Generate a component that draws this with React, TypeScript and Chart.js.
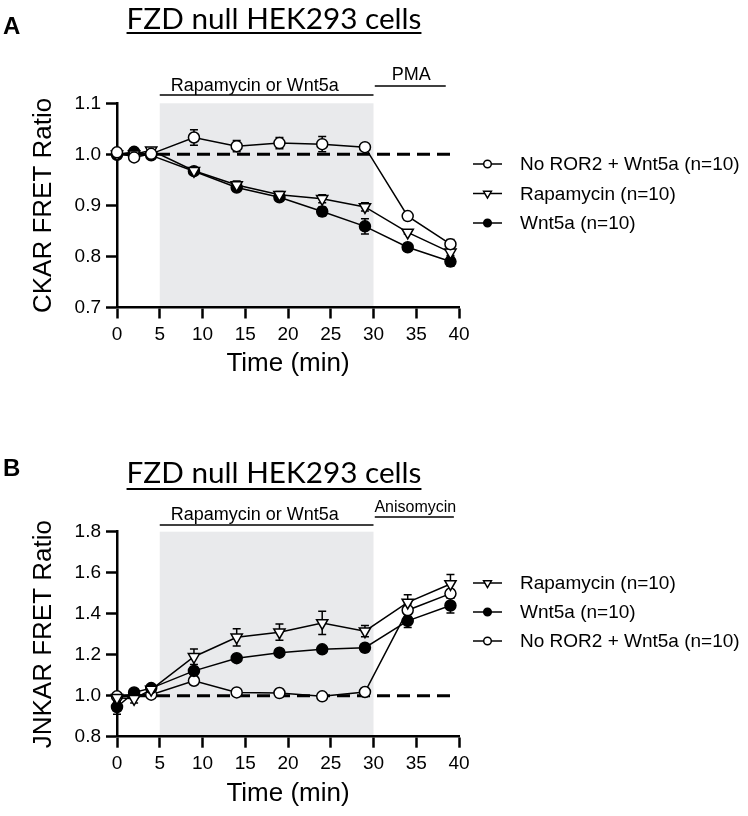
import React, { useEffect, useRef } from 'react';
import { Chart, registerables } from 'chart.js';

Chart.register(...registerables);

// ---------- data ----------
const TIMES = [0, 2, 4, 9, 14, 19, 24, 29, 34, 39];

// Panel A: CKAR FRET ratio
const A_NO_ROR2 = [1.004, 0.994, 1.001, 1.033, 1.016, 1.022, 1.020, 1.014, 0.879, 0.824];
const A_NO_ROR2_SEM = [0.004, 0.004, 0.003, 0.015, 0.011, 0.011, 0.015, 0.003, 0.003, 0.009];
const A_RAPA = [1.000, 1.000, 1.008, 0.968, 0.940, 0.921, 0.913, 0.897, 0.847, 0.808];
const A_RAPA_SEM = [0.003, 0.003, 0.003, 0.005, 0.008, 0.006, 0.008, 0.008, 0.003, 0.006];
const A_WNT = [0.999, 1.005, 0.998, 0.967, 0.935, 0.916, 0.888, 0.859, 0.818, 0.790];
const A_WNT_SEM = [0.003, 0.003, 0.003, 0.005, 0.006, 0.004, 0.009, 0.015, 0.003, 0.009];

// Panel B: JNKAR FRET ratio
const B_RAPA = [0.990, 0.985, 1.030, 1.190, 1.285, 1.310, 1.355, 1.315, 1.455, 1.545];
const B_RAPA_SEM = [0.020, 0.020, 0.010, 0.038, 0.042, 0.040, 0.057, 0.027, 0.038, 0.046];
const B_WNT = [0.945, 1.016, 1.037, 1.121, 1.183, 1.210, 1.226, 1.234, 1.365, 1.440];
const B_WNT_SEM = [0.036, 0.010, 0.005, 0.020, 0.005, 0.005, 0.005, 0.020, 0.032, 0.036];
const B_NO_ROR2 = [0.997, 1.005, 1.005, 1.073, 1.016, 1.013, 0.997, 1.018, 1.417, 1.498];
const B_NO_ROR2_SEM = [0.010, 0.005, 0.005, 0.005, 0.005, 0.005, 0.005, 0.005, 0.030, 0.020];

const LABEL_NO_ROR2 = 'No ROR2 + Wnt5a (n=10)';
const LABEL_RAPA = 'Rapamycin (n=10)';
const LABEL_WNT = 'Wnt5a (n=10)';

const TITLE = 'FZD null HEK293 cells';
const BASELINE = 1.0;
const TREATMENT_START = 5;
const TREATMENT_END = 30;

// ---------- styles ----------
const FONT = '"Liberation Sans", Arial, Helvetica, sans-serif';
const TITLE_FONT = 'Lato, "Open Sans", sans-serif';
const SHADE = '#e9eaec';
const W = 748;
const H = 408;
const PLOT_LEFT = 117;
const PLOT_RIGHT = 459;

type Marker = 'open' | 'filled' | 'tri';
type Series = { label: string; values: number[]; sem: number[]; marker: Marker };

type PanelCfg = {
  letter: string;
  letterBaseline: number;
  titleBaseline: number;
  underlineY: number;
  yTitle: string;
  yMin: number;
  yMax: number;
  yStep: number;
  plotTop: number;
  plotBottom: number;
  xTitlePad: number;
  series: Series[];
  mainBarY: number;
  mainTextY: number;
  second: { text: string; from: number; to: number; barY: number; textY: number; size: number };
  legendY: number[];
};

const PANEL_A: PanelCfg = {
  letter: 'A',
  letterBaseline: 34,
  titleBaseline: 28.5,
  underlineY: 33,
  yTitle: 'CKAR FRET Ratio',
  yMin: 0.7,
  yMax: 1.1,
  yStep: 0.1,
  plotTop: 103.3,
  plotBottom: 307.5,
  xTitlePad: 29,
  series: [
    { label: LABEL_NO_ROR2, values: A_NO_ROR2, sem: A_NO_ROR2_SEM, marker: 'open' },
    { label: LABEL_RAPA, values: A_RAPA, sem: A_RAPA_SEM, marker: 'tri' },
    { label: LABEL_WNT, values: A_WNT, sem: A_WNT_SEM, marker: 'filled' },
  ],
  mainBarY: 95,
  mainTextY: 91,
  second: { text: 'PMA', from: 30.15, to: 38.45, barY: 86, textY: 80, size: 18 },
  legendY: [164, 193.5, 223],
};

const PANEL_B: PanelCfg = {
  letter: 'B',
  letterBaseline: 68,
  titleBaseline: 75.3,
  underlineY: 81,
  yTitle: 'JNKAR FRET Ratio',
  yMin: 0.8,
  yMax: 1.8,
  yStep: 0.2,
  plotTop: 123.7,
  plotBottom: 328.7,
  xTitlePad: 7,
  series: [
    { label: LABEL_RAPA, values: B_RAPA, sem: B_RAPA_SEM, marker: 'tri' },
    { label: LABEL_WNT, values: B_WNT, sem: B_WNT_SEM, marker: 'filled' },
    { label: LABEL_NO_ROR2, values: B_NO_ROR2, sem: B_NO_ROR2_SEM, marker: 'open' },
  ],
  mainBarY: 117,
  mainTextY: 112,
  second: { text: 'Anisomycin', from: 30.15, to: 39.4, barY: 109, textY: 103.5, size: 16 },
  legendY: [175, 204, 233],
};

function drawMarker(ctx: CanvasRenderingContext2D, m: Marker, x: number, y: number, r: number) {
  ctx.beginPath();
  if (m === 'tri') {
    const s = Math.sin(Math.PI / 3) * r;
    ctx.moveTo(x, y + r);
    ctx.lineTo(x - s, y - r / 2);
    ctx.lineTo(x + s, y - r / 2);
    ctx.closePath();
  } else {
    ctx.arc(x, y, r, 0, Math.PI * 2);
  }
  ctx.fillStyle = m === 'filled' ? '#000' : '#fff';
  ctx.fill();
  ctx.stroke();
}

function makePlugin(cfg: PanelCfg) {
  return {
    id: 'panelDecor',
    beforeDraw(chart: any) {
      const { ctx, chartArea, scales } = chart;
      const x = scales.x;
      const x0 = x.getPixelForValue(TREATMENT_START);
      const x1 = x.getPixelForValue(TREATMENT_END);
      ctx.save();
      ctx.fillStyle = SHADE;
      ctx.fillRect(x0, chartArea.top, x1 - x0, chartArea.bottom - chartArea.top);
      ctx.restore();
    },
    beforeDatasetsDraw(chart: any) {
      const { ctx, scales } = chart;
      const x = scales.x;
      const y = scales.y;
      ctx.save();
      // dashed baseline
      ctx.strokeStyle = '#000';
      ctx.lineWidth = 3;
      ctx.setLineDash([13, 7]);
      ctx.beginPath();
      ctx.moveTo(x.getPixelForValue(0), y.getPixelForValue(BASELINE));
      ctx.lineTo(x.getPixelForValue(TIMES[TIMES.length - 1]), y.getPixelForValue(BASELINE));
      ctx.stroke();
      ctx.setLineDash([]);
      // error bars
      ctx.lineWidth = 1.5;
      const cap = 4;
      cfg.series.forEach((s) => {
        s.values.forEach((v, j) => {
          const e = s.sem[j];
          const px = x.getPixelForValue(TIMES[j]);
          const yt = y.getPixelForValue(v + e);
          const yb = y.getPixelForValue(v - e);
          ctx.beginPath();
          ctx.moveTo(px, yt);
          ctx.lineTo(px, yb);
          ctx.moveTo(px - cap, yt);
          ctx.lineTo(px + cap, yt);
          ctx.moveTo(px - cap, yb);
          ctx.lineTo(px + cap, yb);
          ctx.stroke();
        });
      });
      ctx.restore();
    },
    afterDraw(chart: any) {
      const { ctx, scales } = chart;
      const x = scales.x;
      ctx.save();
      ctx.fillStyle = '#000';
      ctx.strokeStyle = '#000';
      // panel letter
      ctx.font = `bold 24px ${FONT}`;
      ctx.textAlign = 'left';
      ctx.textBaseline = 'alphabetic';
      ctx.fillText(cfg.letter, 3, cfg.letterBaseline);
      // title, fitted to width
      ctx.font = `28px ${TITLE_FONT}`;
      const w28 = ctx.measureText(TITLE).width;
      const size = (28 * 295) / w28;
      ctx.font = `${size}px ${TITLE_FONT}`;
      ctx.textAlign = 'center';
      const cx = 274;
      ctx.fillText(TITLE, cx, cfg.titleBaseline);
      const tw = ctx.measureText(TITLE).width;
      ctx.lineWidth = 2;
      ctx.beginPath();
      ctx.moveTo(cx - tw / 2, cfg.underlineY);
      ctx.lineTo(cx + tw / 2, cfg.underlineY);
      ctx.stroke();
      // treatment annotation
      const b0 = x.getPixelForValue(TREATMENT_START);
      const b1 = x.getPixelForValue(TREATMENT_END);
      ctx.lineWidth = 1.5;
      ctx.beginPath();
      ctx.moveTo(b0, cfg.mainBarY);
      ctx.lineTo(b1, cfg.mainBarY);
      ctx.stroke();
      ctx.font = `18px ${FONT}`;
      ctx.textAlign = 'left';
      ctx.fillText('Rapamycin or Wnt5a', b0 + 11, cfg.mainTextY);
      const s0 = x.getPixelForValue(cfg.second.from);
      const s1 = x.getPixelForValue(cfg.second.to);
      ctx.beginPath();
      ctx.moveTo(s0, cfg.second.barY);
      ctx.lineTo(s1, cfg.second.barY);
      ctx.stroke();
      ctx.font = `${cfg.second.size}px ${FONT}`;
      ctx.textAlign = 'center';
      ctx.fillText(cfg.second.text, (s0 + s1) / 2 + 1, cfg.second.textY);
      // legend
      ctx.font = `19px ${FONT}`;
      ctx.textAlign = 'left';
      ctx.textBaseline = 'middle';
      cfg.series.forEach((s, i) => {
        const ly = cfg.legendY[i];
        ctx.lineWidth = 1.5;
        ctx.beginPath();
        ctx.moveTo(473, ly);
        ctx.lineTo(502, ly);
        ctx.stroke();
        drawMarker(ctx, s.marker, 487.5, ly, s.marker === 'tri' ? 4.5 : 3.8);
        ctx.fillStyle = '#000';
        ctx.fillText(s.label, 520, ly + 1);
      });
      ctx.restore();
    },
  };
}

function Panel({ cfg, top }: { cfg: PanelCfg; top: number }) {
  const ref = useRef<HTMLCanvasElement>(null);
  useEffect(() => {
    const canvas = ref.current;
    if (!canvas) return;
    const datasets = cfg.series.map((s) => ({
      label: s.label,
      data: TIMES.map((t, i) => ({ x: t, y: s.values[i] })),
      borderColor: '#000',
      borderWidth: 1.5,
      backgroundColor: s.marker === 'filled' ? '#000' : '#fff',
      pointBackgroundColor: s.marker === 'filled' ? '#000' : '#fff',
      pointBorderColor: '#000',
      pointBorderWidth: 1.5,
      pointStyle: s.marker === 'tri' ? 'triangle' : 'circle',
      pointRotation: s.marker === 'tri' ? 180 : 0,
      pointRadius: s.marker === 'tri' ? 6.5 : 5.5,
      tension: 0,
      clip: false as any,
    }));
    const axisGrid = {
      display: true,
      drawOnChartArea: false,
      drawTicks: true,
      tickLength: 11,
      tickWidth: 2.5,
      tickColor: '#000',
    };
    const chart = new Chart(canvas, {
      type: 'line',
      data: { datasets: datasets as any },
      plugins: [makePlugin(cfg)],
      options: {
        animation: false,
        responsive: false,
        devicePixelRatio: 1,
        layout: { padding: { left: 0, top: cfg.plotTop, right: W - PLOT_RIGHT, bottom: 0 } },
        plugins: { legend: { display: false }, tooltip: { enabled: false } },
        scales: {
          x: {
            type: 'linear',
            min: 0,
            max: 40,
            grid: axisGrid,
            border: { display: true, color: '#000', width: 2.5 },
            ticks: {
              stepSize: 5,
              color: '#000',
              font: { family: FONT, size: 19 },
              padding: 5,
              maxRotation: 0,
              autoSkip: false,
            },
            title: {
              display: true,
              text: 'Time (min)',
              color: '#000',
              font: { family: FONT, size: 26, lineHeight: 1.2 },
              padding: { top: 0, bottom: cfg.xTitlePad },
            },
            afterFit: (s: any) => {
              s.height = H - cfg.plotBottom;
            },
          },
          y: {
            type: 'linear',
            min: cfg.yMin,
            max: cfg.yMax,
            grid: axisGrid,
            border: { display: true, color: '#000', width: 2.5 },
            ticks: {
              stepSize: cfg.yStep,
              color: '#000',
              font: { family: FONT, size: 19 },
              padding: 5,
              callback: (v: any) => Number(v).toFixed(1),
            },
            title: {
              display: true,
              text: cfg.yTitle,
              color: '#000',
              font: { family: FONT, size: 26, lineHeight: 1.2 },
              padding: { top: 28.4, bottom: 0 },
            },
            afterFit: (s: any) => {
              s.width = PLOT_LEFT;
            },
          },
        },
      } as any,
    });
    return () => chart.destroy();
  }, [cfg]);
  return (
    <canvas
      ref={ref}
      width={W}
      height={H}
      style={{ position: 'absolute', left: 0, top, width: W, height: H, display: 'block' }}
    />
  );
}

export default function App() {
  return (
    <div style={{ position: 'absolute', left: 0, top: 0, width: W, height: 2 * H, background: '#fff' }}>
      <Panel cfg={PANEL_A} top={0} />
      <Panel cfg={PANEL_B} top={H} />
    </div>
  );
}
